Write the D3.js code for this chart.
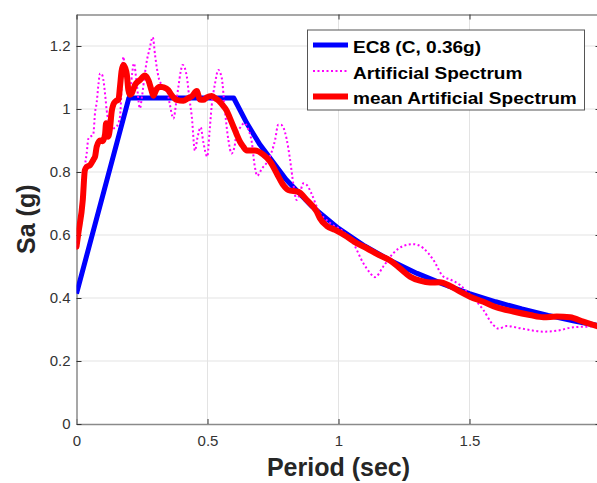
<!DOCTYPE html>
<html>
<head>
<meta charset="utf-8">
<script src="https://cdn.jsdelivr.net/npm/d3@7"></script>
<style>
  html, body { margin: 0; padding: 0; background: #fff; }
  svg { display: block; font-family: "Liberation Sans", Arial, sans-serif; }
  .tick text { fill: #333; font-size: 15px; }
  .grid line { stroke: #e3e3e3; stroke-width: 1; }
  .axis-title { font-weight: bold; font-size: 25px; fill: #262626; }
  .legend-text { font-weight: bold; font-size: 16.3px; fill: #000; }
</style>
</head>
<body>
<svg id="chart" width="597" height="483"></svg>
<script>
// EC8 design spectrum (ground type C, ag = 0.36g)
const ec8T  = [0, 0.2, 0.6, 0.65, 0.7, 0.8, 0.9, 1.0, 1.1, 1.2, 1.3, 1.4, 1.5, 1.6, 1.7, 1.8, 1.9, 2.0];
const ec8Sa = [0.414, 1.035, 1.035, 0.955, 0.887, 0.776, 0.690, 0.621, 0.565, 0.518, 0.478, 0.444, 0.414, 0.388, 0.365, 0.345, 0.327, 0.311];

// artificial spectrum (dotted magenta)
const artT  = [0, 0.010, 0.022, 0.033, 0.039, 0.045, 0.058, 0.064, 0.071, 0.077, 0.084, 0.090, 0.097, 0.102, 0.110, 0.115,
  0.125, 0.134, 0.145, 0.153, 0.166, 0.173, 0.179, 0.184, 0.189, 0.197, 0.204, 0.212, 0.219, 0.230, 0.242, 0.250,
  0.261, 0.270, 0.278, 0.291, 0.300, 0.306, 0.315, 0.325, 0.344, 0.355, 0.370, 0.382, 0.389, 0.398, 0.405, 0.421,
  0.430, 0.440, 0.452, 0.462, 0.474, 0.484, 0.499, 0.508, 0.516, 0.529, 0.541, 0.554, 0.567, 0.580, 0.592, 0.603,
  0.611, 0.624, 0.640, 0.656, 0.669, 0.680, 0.690, 0.707, 0.732, 0.758, 0.770, 0.780, 0.802, 0.815, 0.828, 0.840,
  0.850, 0.866, 0.880, 0.895, 0.923, 0.967, 1.018, 1.056, 1.095, 1.120, 1.139, 1.171, 1.209, 1.247, 1.285, 1.324,
  1.362, 1.400, 1.426, 1.464, 1.502, 1.553, 1.590, 1.610, 1.642, 1.693, 1.740, 1.782, 1.833, 1.896, 1.950, 2.000];
const artSa = [0.560, 0.640, 0.740, 0.825, 0.860, 0.905, 0.915, 0.920, 0.990, 1.020, 1.080, 1.113, 1.110, 1.095, 1.040, 0.997,
  0.955, 0.933, 0.940, 0.944, 0.976, 1.080, 1.166, 1.130, 1.092, 1.060, 1.050, 1.110, 1.145, 1.080, 1.002, 1.040,
  1.113, 1.160, 1.187, 1.228, 1.170, 1.134, 1.095, 1.078, 1.066, 1.020, 0.970, 1.030, 1.071, 1.120, 1.140, 1.103,
  1.040, 0.976, 0.868, 0.910, 0.942, 0.895, 0.849, 0.930, 1.010, 1.082, 1.124, 1.100, 0.990, 0.900, 0.859, 0.880,
  0.923, 0.940, 0.955, 0.935, 0.895, 0.820, 0.788, 0.810, 0.838, 0.902, 0.950, 0.950, 0.905, 0.840, 0.760, 0.711,
  0.725, 0.764, 0.758, 0.735, 0.679, 0.639, 0.611, 0.574, 0.510, 0.480, 0.466, 0.500, 0.542, 0.565, 0.571, 0.558,
  0.521, 0.468, 0.459, 0.441, 0.410, 0.362, 0.315, 0.303, 0.311, 0.304, 0.297, 0.293, 0.296, 0.307, 0.309, 0.310];

// mean artificial spectrum (thick red)
const meanT  = [0, 0.007, 0.024, 0.032, 0.040, 0.052, 0.065, 0.071, 0.077, 0.090, 0.100, 0.109, 0.113, 0.121, 0.128, 0.134,
  0.141, 0.150, 0.160, 0.166, 0.172, 0.179, 0.186, 0.192, 0.198, 0.204, 0.211, 0.223, 0.242, 0.261, 0.275, 0.286,
  0.293, 0.305, 0.319, 0.331, 0.350, 0.363, 0.382, 0.408, 0.425, 0.440, 0.459, 0.471, 0.484, 0.497, 0.516, 0.535,
  0.548, 0.560, 0.573, 0.586, 0.599, 0.611, 0.624, 0.637, 0.650, 0.681, 0.713, 0.739, 0.764, 0.789, 0.808, 0.847,
  0.879, 0.917, 0.929, 0.955, 0.987, 1.031, 1.069, 1.108, 1.146, 1.197, 1.235, 1.273, 1.311, 1.349, 1.387, 1.426,
  1.464, 1.502, 1.553, 1.604, 1.667, 1.731, 1.782, 1.833, 1.884, 1.934, 2.000];
const meanSa = [0.563, 0.605, 0.711, 0.806, 0.817, 0.822, 0.840, 0.849, 0.880, 0.900, 0.898, 0.920, 0.955, 0.912, 0.940, 0.990,
  1.015, 1.025, 1.029, 1.071, 1.120, 1.140, 1.130, 1.110, 1.060, 1.045, 1.050, 1.076, 1.092, 1.106, 1.090, 1.060,
  1.042, 1.062, 1.071, 1.069, 1.060, 1.044, 1.029, 1.026, 1.034, 1.040, 1.057, 1.030, 1.029, 1.037, 1.041, 1.031,
  1.022, 1.010, 0.995, 0.970, 0.944, 0.920, 0.896, 0.880, 0.868, 0.868, 0.855, 0.833, 0.796, 0.759, 0.743, 0.737,
  0.711, 0.674, 0.653, 0.629, 0.616, 0.595, 0.574, 0.558, 0.540, 0.519, 0.494, 0.468, 0.455, 0.449, 0.450, 0.438,
  0.420, 0.404, 0.388, 0.370, 0.357, 0.346, 0.339, 0.341, 0.339, 0.325, 0.307];

const xTicks = [0, 0.5, 1, 1.5, 2];
const xTickLabels = ["0", "0.5", "1", "1.5", "2"];
const yTicks = [0, 0.2, 0.4, 0.6, 0.8, 1.0, 1.2];
const yTickLabels = ["0", "0.2", "0.4", "0.6", "0.8", "1", "1.2"];

const seriesNames = ["EC8 (C, 0.36g)", "Artificial Spectrum", "mean Artificial Spectrum"];

const svg = d3.select("#chart");
const pLeft = 76.5, pRight = 600.5, pTop = 14.5, pBottom = 424;

const x = d3.scaleLinear().domain([0, 2]).range([pLeft, pRight]);
const y = d3.scaleLinear().domain([0, 1.3]).range([pBottom, pTop]);

// grid
const grid = svg.append("g").attr("class", "grid");
grid.selectAll(".gx").data(xTicks.slice(1)).enter().append("line")
  .attr("x1", d => x(d)).attr("x2", d => x(d))
  .attr("y1", pTop).attr("y2", pBottom);
grid.selectAll(".gy").data(yTicks.slice(1)).enter().append("line")
  .attr("x1", pLeft).attr("x2", pRight)
  .attr("y1", d => y(d)).attr("y2", d => y(d));

// axes (ticks pointing inward, MATLAB style)
svg.append("g")
  .attr("transform", `translate(0,${pBottom})`)
  .call(d3.axisBottom(x).tickValues(xTicks)
    .tickFormat((d, i) => xTickLabels[i])
    .tickSizeInner(-5).tickSizeOuter(0).tickPadding(11));
svg.append("g")
  .attr("transform", `translate(${pLeft},0)`)
  .call(d3.axisLeft(y).tickValues(yTicks)
    .tickFormat((d, i) => yTickLabels[i])
    .tickSizeInner(-5).tickSizeOuter(0).tickPadding(6));
// top & right ticks (box on)
svg.append("g")
  .attr("transform", `translate(0,${pTop})`)
  .call(d3.axisTop(x).tickValues(xTicks).tickFormat("").tickSizeInner(-5).tickSizeOuter(0));
svg.append("g")
  .attr("transform", `translate(${pRight},0)`)
  .call(d3.axisRight(y).tickValues(yTicks).tickFormat("").tickSizeInner(-5).tickSizeOuter(0));

svg.selectAll(".domain").attr("stroke", "#8a8a8a").attr("stroke-width", 1.5);
svg.selectAll(".tick line").attr("stroke", "#333");
svg.selectAll(".tick text").attr("font-family", null).attr("font-size", null);

// curves
svg.append("defs").append("clipPath").attr("id", "plotClip")
  .append("rect").attr("x", pLeft).attr("y", pTop).attr("width", pRight - pLeft).attr("height", pBottom - pTop);
const plot = svg.append("g").attr("clip-path", "url(#plotClip)");

const lineLin = d3.line().x(d => x(d[0])).y(d => y(d[1]));
const lineSmooth = d3.line().x(d => x(d[0])).y(d => y(d[1])).curve(d3.curveMonotoneX);

plot.append("path")
  .datum(d3.zip(ec8T, ec8Sa))
  .attr("d", lineLin)
  .attr("fill", "none").attr("stroke", "#0000ff").attr("stroke-width", 5)
  .attr("stroke-linejoin", "round");

plot.append("path")
  .datum(d3.zip(artT, artSa))
  .attr("d", lineSmooth)
  .attr("fill", "none").attr("stroke", "#ff00ff").attr("stroke-width", 2)
  .attr("stroke-dasharray", "2,2.5");

plot.append("path")
  .datum(d3.zip(meanT, meanSa))
  .attr("d", lineSmooth)
  .attr("fill", "none").attr("stroke", "#ff0000").attr("stroke-width", 6)
  .attr("stroke-linejoin", "round").attr("stroke-linecap", "round");

// axis titles
svg.append("text").attr("class", "axis-title")
  .attr("x", x(1)).attr("y", 476).attr("text-anchor", "middle")
  .text("Period (sec)");
svg.append("text").attr("class", "axis-title")
  .attr("transform", `translate(35,${(pTop + pBottom) / 2}) rotate(-90)`)
  .attr("text-anchor", "middle")
  .text("Sa (g)");

// legend
const legend = svg.append("g");
legend.append("rect")
  .attr("x", 307.5).attr("y", 30).attr("width", 277).attr("height", 80)
  .attr("fill", "#fff").attr("stroke", "#555").attr("stroke-width", 1);
const legendStyles = [
  { color: "#0000ff", width: 5, dash: null },
  { color: "#ff00ff", width: 2, dash: "2,2.5" },
  { color: "#ff0000", width: 6, dash: null }
];
const rowY = [45, 71, 96.5];
seriesNames.forEach((name, i) => {
  legend.append("line")
    .attr("x1", 313).attr("x2", 348).attr("y1", rowY[i]).attr("y2", rowY[i])
    .attr("stroke", legendStyles[i].color).attr("stroke-width", legendStyles[i].width)
    .attr("stroke-dasharray", legendStyles[i].dash);
  legend.append("text").attr("class", "legend-text")
    .attr("transform", `translate(353,${rowY[i] + 7.5}) scale(1.17,1)`)
    .text(name);
});
</script>
</body>
</html>
